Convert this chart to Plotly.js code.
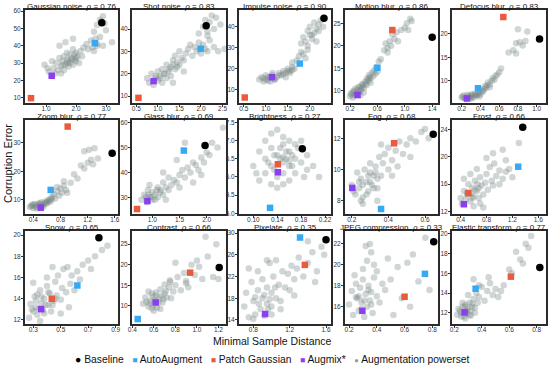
<!DOCTYPE html>
<html>
<head>
<meta charset="utf-8">
<script src="https://cdn.plot.ly/plotly-3.0.1.min.js"></script>
<style>
  body { margin: 0; background: #fff; }
  #plot { width: 550px; height: 371px; }
</style>
</head>
<body>
<div id="plot"></div>
<script>
// ---------------- data ----------------
var panelNames = ['Gaussian noise', 'Shot noise', 'Impulse noise', 'Motion blur', 'Defocus blur',
                  'Zoom blur', 'Glass blur', 'Brightness', 'Fog', 'Frost',
                  'Snow', 'Contrast', 'Pixelate', 'JPEG compression', 'Elastic transform'];
var rhoValues = ['0.76', '0.83', '0.90', '0.86', '0.83', '0.77', '0.69', '0.27', '0.68', '0.66',
                 '0.65', '0.66', '0.35', '0.33', '0.77'];

// method results (x = minimal sample distance, y = corruption error)
var baselineX = [2.86, 2.12, 2.32, 1.40, 1.03, 1.56, 1.97, 0.182, 0.645, 1.36, 0.778, 1.207, 1.60, 0.81, 0.823];
var baselineY = [53.3, 41.5, 44.0, 21.9, 18.9, 26.3, 50.8, 6.78, 12.25, 24.3, 19.75, 19.3, 28.8, 22.2, 16.6];
var autoX = [2.63, 1.99, 1.77, 0.60, 0.374, 0.656, 1.58, 0.128, 0.36, 1.29, 0.621, 0.45, 1.314, 0.747, 0.355];
var autoY = [41.5, 31.2, 22.5, 15.1, 8.37, 13.5, 48.8, 5.15, 7.47, 18.55, 15.25, 6.77, 29.2, 19.14, 14.44];
var patchX = [0.50, 0.55, 0.52, 0.818, 0.644, 0.906, 0.72, 0.141, 0.431, 0.52, 0.435, 0.937, 1.367, 0.60, 0.612];
var patchY = [9.8, 9.2, 6.4, 23.5, 23.6, 35.6, 25.3, 6.35, 11.68, 14.7, 14.0, 18.06, 24.15, 16.95, 15.66];
var augmixX = [1.19, 0.90, 1.14, 0.31, 0.257, 0.51, 0.91, 0.141, 0.203, 0.45, 0.358, 0.617, 0.93, 0.296, 0.275];
var augmixY = [22.7, 16.7, 16.0, 9.04, 6.2, 7.3, 28.5, 6.13, 8.82, 13.08, 13.03, 10.8, 15.1, 15.6, 12.04];

// augmentation powerset clouds
var gaussianNoiseX = [0.95,1.05,1.10,1.20,1.25,1.30,1.35,1.40,1.45,1.50,
                      1.50,1.55,1.60,1.60,1.65,1.70,1.70,1.75,1.80,1.80,
                      1.85,1.90,1.90,1.95,2.00,2.00,2.05,2.10,2.15,2.20,
                      2.25,1.45,1.65,1.90,2.35,2.40,2.50,2.55,2.60,2.65,
                      2.70,2.80,2.90,3.20,2.60,2.70,2.80,2.90,2.95,3.00,
                      1.55,1.75,1.85,2.00,1.70,1.95,2.70,2.85];
var gaussianNoiseY = [29,27,25,31,27,24,30,26,33,28,
                      24,31,26,34,29,32,36,28,30,35,
                      33,38,29,32,36,31,34,30,37,34,
                      39,40,42,44,41,38,43,39,37,44,
                      41,45,40,42,48,52,55,57,53,49,
                      29,31,32,33,30,35,40,54];
var shotNoiseX = [0.75,0.80,0.85,0.90,0.95,1.00,1.00,1.05,1.10,1.10,
                  1.15,1.20,1.20,1.25,1.30,1.30,1.35,1.40,1.40,1.45,
                  1.50,1.50,1.55,1.60,1.65,1.70,1.75,1.80,1.85,1.90,
                  1.95,2.00,2.05,2.10,2.20,2.30,2.40,2.55,1.95,2.05,
                  2.10,2.15,2.20,2.25,2.30,2.35,2.45,2.15,1.35,1.60,
                  0.95,1.05,1.15,1.25,1.35,1.45,2.00,2.15];
var shotNoiseY = [18,16,20,15,18,17,21,19,16,22,
                  20,18,24,21,23,19,26,22,28,25,
                  24,30,27,26,29,31,33,28,32,30,
                  34,29,33,31,35,32,30,31,38,41,
                  44,37,43,46,40,45,42,39,16,21,
                  19,18,20,22,24,23,31,30];
var impulseNoiseX = [0.85,0.90,0.95,1.00,1.00,1.05,1.10,1.15,1.20,1.25,
                     1.30,1.35,1.40,1.45,1.50,1.55,1.60,1.65,1.45,1.55,
                     1.70,1.75,1.80,1.85,1.90,1.95,1.80,1.85,1.90,1.95,
                     2.00,2.05,2.10,2.15,2.20,2.00,2.10,2.15,2.20,2.25,
                     2.30,1.95,2.05,1.60,1.15,
                     0.95,1.05,1.10,1.20,1.30,1.40,1.50,1.60];
var impulseNoiseY = [15,16,14,17,15,16,14,17,15,16,
                     18,17,19,18,20,19,21,20,16,18,
                     24,26,28,27,25,29,32,35,33,31,
                     36,34,37,33,38,40,42,39,41,43,
                     40,38,36,23,18,
                     15.5,14.5,16.2,15.0,17.0,17.5,19.0,19.5];
var motionBlurX = [0.20,0.22,0.24,0.25,0.27,0.28,0.30,0.32,0.33,0.35,
                   0.36,0.38,0.40,0.42,0.44,0.45,0.47,0.48,0.50,0.52,
                   0.54,0.55,0.57,0.58,0.60,0.35,0.40,0.50,0.62,0.70,
                   0.72,0.75,0.78,0.80,0.82,0.85,0.88,0.90,0.95,1.00,
                   1.03,1.05,1.08,1.10,0.75,0.65,
                   0.22,0.26,0.29,0.31,0.34,0.37,0.39,0.43,0.46,0.49];
var motionBlurY = [8.8,9.5,8.5,10.0,9.0,10.5,9.2,10.8,9.6,11.0,
                   10.2,11.5,10.6,12.0,11.2,12.8,12.2,13.5,12.8,14.0,
                   13.2,14.5,13.8,15.2,14.2,9.0,9.6,11.8,16.5,19.0,
                   20.5,19.5,21.0,20.0,22.5,21.5,23.0,21.0,23.5,24.0,
                   25.0,23.5,26.0,25.5,18.5,17.0,
                   9.2,9.8,9.4,10.2,10.0,10.6,11.2,11.6,12.4,13.0];
var defocusBlurX = [0.20,0.22,0.24,0.26,0.28,0.30,0.32,0.34,0.36,0.38,
                    0.40,0.42,0.25,0.30,0.35,0.40,0.44,0.45,0.47,0.48,
                    0.50,0.52,0.53,0.55,0.56,0.58,0.60,0.50,0.62,0.75,
                    0.78,0.80,0.82,0.85,0.88,0.90,0.78,0.70,
                    0.21,0.23,0.27,0.29,0.31,0.33,0.37,0.39,0.43,0.46];
var defocusBlurY = [6.4,6.8,6.2,7.0,6.5,6.9,6.6,7.2,6.8,7.3,
                    7.1,7.6,6.0,6.2,7.0,8.0,8.2,8.8,9.0,9.6,
                    9.2,10.0,10.5,10.2,11.0,11.3,11.8,8.6,12.6,16.5,
                    18.0,21.0,18.2,17.5,18.5,20.5,15.8,16.0,
                    6.6,6.3,6.7,6.3,7.1,6.4,7.0,6.6,7.8,8.4];
var zoomBlurX = [0.35,0.38,0.40,0.42,0.45,0.48,0.50,0.52,0.55,0.58,
                 0.60,0.62,0.65,0.68,0.70,0.72,0.75,0.78,0.80,0.82,
                 0.85,0.88,0.90,0.45,0.55,0.65,0.75,0.95,1.00,1.05,
                 1.10,1.15,1.20,1.22,1.25,1.28,1.30,1.35,1.15,0.85,
                 0.37,0.40,0.43,0.47,0.50,0.53,0.57,0.60,0.63,0.67];
var zoomBlurY = [7.5,8.2,7.2,8.6,7.8,8.8,8.0,9.2,8.4,9.5,
                 8.8,10.0,9.4,11.0,12.0,10.5,13.0,11.5,14.0,12.5,
                 15.0,13.5,12.5,7.0,7.6,10.4,14.5,16.0,19.0,17.5,
                 22.0,21.0,23.0,27.5,24.0,22.5,28.0,24.5,27.0,16.5,
                 7.8,8.4,7.6,8.2,8.8,8.1,8.9,9.2,9.6,10.2];
var glassBlurX = [0.80,0.85,0.90,0.92,0.95,1.00,1.00,1.05,1.10,1.10,
                  1.15,1.20,1.20,1.25,1.30,1.30,1.35,1.40,1.45,1.50,
                  1.50,1.55,1.60,1.65,1.70,1.75,1.80,1.85,1.90,1.95,
                  2.00,2.05,2.10,2.20,2.30,1.20,1.45,1.60,1.75,0.95,
                  1.25,1.90,0.88,0.98,1.08,1.15,1.05,0.93];
var glassBlurY = [29,31,28,33,30,29,32,31,30,34,
                  33,31,36,34,33,38,35,37,36,34,
                  39,41,38,42,40,44,43,41,46,44,
                  48,47,52,50,58,40,45,52,36,35,
                  29,39,30,30,33,32,29,31];
var brightnessX = [0.10,0.11,0.11,0.12,0.12,0.12,0.13,0.13,0.13,0.13,
                   0.14,0.14,0.14,0.14,0.15,0.15,0.15,0.15,0.15,0.16,
                   0.16,0.16,0.16,0.17,0.17,0.17,0.18,0.18,0.19,0.19,
                   0.20,0.21,0.125,0.145,0.155,0.165,0.135,0.175,0.105,0.185,
                   0.145,0.155,0.165,0.135,0.15,0.16];
var brightnessY = [6.3,6.7,5.9,6.5,7.0,6.1,6.8,6.3,5.8,7.2,
                   6.6,6.0,7.3,5.7,6.9,6.4,6.1,7.1,5.8,6.7,
                   6.3,7.0,5.9,6.5,6.9,6.1,6.4,7.0,6.2,6.6,
                   6.3,6.0,6.4,6.8,6.5,6.6,6.2,6.8,6.1,6.0,
                   6.5,6.7,6.3,6.6,6.55,6.45];
var fogX = [0.20,0.22,0.23,0.24,0.25,0.26,0.27,0.28,0.29,0.30,
            0.30,0.31,0.32,0.33,0.34,0.35,0.36,0.37,0.38,0.40,
            0.40,0.42,0.44,0.45,0.46,0.48,0.50,0.52,0.55,0.58,
            0.60,0.62,0.26,0.34,0.42,0.36,0.52,
            0.21,0.24,0.26,0.28,0.30,0.32,0.34,0.25,0.29,0.33];
var fogY = [9.0,8.4,9.8,8.8,9.4,8.2,10.0,9.2,8.6,9.8,
            10.4,9.0,9.6,10.2,8.8,10.8,9.6,10.4,11.0,10.0,
            11.4,10.6,11.2,10.2,11.8,11.0,11.6,12.0,11.8,12.4,
            12.6,12.0,7.8,8.0,9.6,11.6,10.8,
            8.6,9.2,9.0,8.4,9.2,8.8,9.4,8.0,9.6,9.8];
var frostX = [0.40,0.42,0.45,0.48,0.50,0.52,0.55,0.58,0.60,0.62,
              0.65,0.68,0.70,0.72,0.75,0.78,0.80,0.82,0.85,0.88,
              0.90,0.92,0.95,1.00,1.05,1.10,1.15,1.20,0.60,0.70,
              0.80,0.90,1.00,1.10,1.30,0.55,0.65,0.45,1.05,0.75,
              0.50,0.56,0.62,0.68,0.58,0.66];
var frostY = [14.0,13.2,15.0,13.8,14.5,16.0,13.5,15.5,14.2,16.5,
              15.0,14.0,17.0,15.8,14.5,16.2,17.5,15.2,18.5,16.5,
              15.8,19.0,17.2,18.0,16.8,19.5,18.2,17.0,12.8,13.2,
              19.8,20.5,16.0,17.8,22.0,17.5,18.2,16.8,21.0,12.6,
              14.8,14.6,15.2,15.4,14.0,16.0];
var snowX = [0.27,0.28,0.30,0.31,0.32,0.33,0.35,0.36,0.37,0.38,
             0.40,0.41,0.42,0.43,0.45,0.46,0.47,0.48,0.50,0.51,
             0.52,0.54,0.55,0.57,0.58,0.60,0.62,0.64,0.66,0.70,
             0.72,0.75,0.80,0.84,0.30,0.40,0.50,0.56,0.44,0.35,
             0.29,0.32,0.34,0.36,0.39,0.41,0.44,0.46,0.38,0.33];
var snowY = [12.2,13.5,12.8,14.2,13.2,12.5,14.8,13.6,12.9,14.0,
             15.2,13.4,14.5,12.8,13.8,15.6,14.3,16.2,13.9,15.0,
             16.8,14.6,17.0,15.4,16.2,14.8,16.6,15.8,17.2,17.6,
             16.8,18.0,18.6,19.0,15.5,16.0,12.6,13.2,17.0,11.9,
             13.0,13.8,13.0,14.2,13.4,14.6,13.4,14.0,12.6,14.4];
var contrastX = [0.50,0.52,0.55,0.57,0.58,0.60,0.62,0.63,0.65,0.66,
                 0.68,0.70,0.70,0.72,0.74,0.75,0.76,0.78,0.80,0.82,
                 0.85,0.88,0.90,0.92,0.95,0.98,1.00,1.02,1.05,1.08,
                 1.10,1.15,1.18,1.20,0.60,0.66,0.55,0.80,0.90,0.75,
                 0.53,0.56,0.59,0.61,0.64,0.67,0.69,0.71,0.62,0.58];
var contrastY = [10.5,12.0,9.8,11.2,13.0,10.2,12.5,9.6,11.8,14.0,
                 10.8,13.0,15.2,12.0,14.5,16.2,11.8,13.5,15.0,17.0,
                 13.8,18.0,16.0,14.5,20.0,17.5,21.0,19.5,16.5,26.8,
                 22.0,17.0,25.0,16.5,8.8,9.2,13.5,20.5,15.5,15.8,
                 11.0,10.6,12.2,11.4,10.8,12.4,11.6,13.6,13.2,9.4];
var pixelateX = [0.70,0.72,0.75,0.78,0.80,0.82,0.85,0.85,0.88,0.90,
                 0.90,0.92,0.95,0.95,0.98,1.00,1.00,1.02,1.05,1.05,
                 1.08,1.10,1.12,1.15,1.18,1.20,1.22,1.25,1.28,1.30,
                 1.35,1.40,1.45,1.50,1.55,1.40,1.48,0.80,1.00,1.10,
                 0.75,0.95,1.25,1.58,0.86,0.92,0.98,1.04,0.82,0.96];
var pixelateY = [16.5,19.0,14.5,21.0,17.5,15.0,19.5,23.0,16.0,18.0,
                 21.5,14.8,17.0,20.0,24.5,16.5,19.0,22.0,18.0,25.0,
                 20.5,17.5,23.0,20.0,22.5,19.5,24.0,21.5,23.5,25.5,
                 22.0,24.5,26.5,23.0,27.5,28.5,21.0,14.2,15.0,16.0,
                 23.5,25.0,18.5,26.0,17.0,18.6,17.8,20.0,18.2,16.0];
var jpegX = [0.20,0.22,0.23,0.25,0.26,0.27,0.28,0.29,0.30,0.31,
             0.32,0.33,0.34,0.35,0.36,0.37,0.38,0.40,0.42,0.44,
             0.30,0.33,0.36,0.38,0.40,0.32,0.46,0.50,0.55,0.58,
             0.62,0.66,0.70,0.75,0.78,0.52,0.64,0.24,0.48,0.35,
             0.27,0.31,0.34,0.29,0.36,0.25];
var jpegY = [16.2,17.5,15.2,18.2,16.8,15.6,17.8,16.4,18.6,15.0,
             17.2,16.0,18.0,16.6,17.4,15.4,18.8,17.0,16.4,18.2,
             19.6,20.4,21.2,20.0,19.4,21.8,17.6,18.6,19.8,16.8,
             20.2,21.0,18.4,22.6,17.6,15.2,16.0,19.0,20.6,22.0,
             17.0,16.6,17.6,15.8,16.2,16.9];
var elasticX = [0.22,0.24,0.25,0.26,0.27,0.28,0.29,0.30,0.31,0.32,
                0.33,0.34,0.35,0.36,0.38,0.40,0.42,0.44,0.46,0.48,
                0.50,0.52,0.54,0.56,0.30,0.34,0.38,0.45,0.60,0.65,
                0.68,0.70,0.72,0.74,0.76,0.62,0.28,0.26,
                0.23,0.25,0.27,0.29,0.31,0.33,0.35,0.37,0.28,0.32];
var elasticY = [11.8,12.2,11.6,12.6,12.0,12.8,11.9,12.4,13.0,12.2,
                12.6,13.4,12.0,14.0,13.6,14.6,13.2,14.2,15.0,13.8,
                14.4,13.6,14.2,14.8,13.8,15.4,14.8,15.6,16.4,18.2,
                17.4,17.0,19.0,18.6,19.8,16.0,11.4,13.0,
                12.4,12.0,11.6,12.2,11.8,12.9,12.5,13.0,12.6,11.7];

var powersetX = [gaussianNoiseX, shotNoiseX, impulseNoiseX, motionBlurX, defocusBlurX,
                 zoomBlurX, glassBlurX, brightnessX, fogX, frostX,
                 snowX, contrastX, pixelateX, jpegX, elasticX];
var powersetY = [gaussianNoiseY, shotNoiseY, impulseNoiseY, motionBlurY, defocusBlurY,
                 zoomBlurY, glassBlurY, brightnessY, fogY, frostY,
                 snowY, contrastY, pixelateY, jpegY, elasticY];

// axis ticks per panel
var xTicks = [[1, 2, 3], [0.5, 1, 1.5, 2, 2.5], [0.5, 1, 1.5, 2], [0.2, 0.6, 1.0, 1.4], [0.2, 0.4, 0.6, 0.8, 1.0],
              [0.4, 0.8, 1.2, 1.6], [1.0, 1.5, 2.0], [0.10, 0.14, 0.18, 0.22], [0.2, 0.4, 0.6], [0.4, 0.8, 1.2, 1.6],
              [0.3, 0.5, 0.7, 0.9], [0.4, 0.6, 0.8, 1.0, 1.2], [0.8, 1.2, 1.6], [0.2, 0.4, 0.6, 0.8], [0.2, 0.4, 0.6, 0.8]];
var yTicks = [[10, 20, 30, 40, 50, 60], [10, 20, 30, 40], [10, 20, 30, 40], [10, 15, 20, 25], [10, 15, 20],
              [10, 20, 30], [30, 40, 50, 60], [5.0, 5.5, 6.0, 6.5, 7.0, 7.5], [8, 10, 12], [12, 16, 20, 24],
              [12, 14, 16, 18, 20], [10, 15, 20, 25], [14, 18, 22, 26, 30], [16, 18, 20, 22], [12, 14, 16, 18, 20]];

// ---------------- layout helpers ----------------
var W = 550, H = 371;
var xRanges = [[0.3, 3.4], [0.4, 2.58], [0.39, 2.48], [0.127, 1.485], [0.097, 1.099],
               [0.278, 1.646], [0.627, 2.355], [0.076, 0.23], [0.163, 0.671], [0.266, 1.72],
               [0.24, 0.917], [0.397, 1.27], [0.642, 1.655], [0.171, 0.841], [0.183, 0.868]];
var yRanges = [[7, 60.6], [6.9, 48.5], [3.8, 47.9], [7.27, 27.96], [5.22, 25.1],
               [5.1, 37.9], [23.3, 61.1], [4.98, 7.57], [7.15, 13.17], [11.66, 25.35],
               [11.62, 20.38], [5.56, 28.2], [13.26, 30.4], [14.34, 23.24], [10.85, 20.3]];
var colPx = [[25, 118], [132, 226], [239, 331], [345, 438], [452, 546]];
var rowPx = [[10, 103], [120, 214], [231, 324]];

var font = 'Liberation Sans, Arial, sans-serif';
var grayCol = 'rgba(118,134,132,0.34)';
var colors = {baseline: '#000000', auto: '#36a9f4', patch: '#ea5a3c', augmix: '#8a3ff0', gray: '#8f9a9a'};

var data = [];
var layout = {
    width: W, height: H,
    margin: {l: 0, r: 0, t: 0, b: 0},
    paper_bgcolor: '#fff', plot_bgcolor: '#fff',
    showlegend: false,
    annotations: []
};

for (var i = 0; i < 15; i++) {
    var n = i + 1;
    var xa = 'x' + (n === 1 ? '' : n);
    var ya = 'y' + (n === 1 ? '' : n);
    var col = colPx[i % 5], row = rowPx[Math.floor(i / 5)];

    // gray cloud
    data.push({
        x: powersetX[i], y: powersetY[i], xaxis: xa, yaxis: ya,
        type: 'scatter', mode: 'markers', name: 'Augmentation powerset',
        marker: {color: grayCol, size: 6.5, line: {width: 0}},
        hoverinfo: 'skip'
    });
    // methods
    var methods = [
        {name: 'Baseline', xs: baselineX, ys: baselineY, c: colors.baseline, sym: 'circle', sz: 7.5},
        {name: 'AutoAugment', xs: autoX, ys: autoY, c: colors.auto, sym: 'square', sz: 6.5},
        {name: 'Patch Gaussian', xs: patchX, ys: patchY, c: colors.patch, sym: 'square', sz: 6.5},
        {name: 'Augmix*', xs: augmixX, ys: augmixY, c: colors.augmix, sym: 'square', sz: 6.5}
    ];
    methods.forEach(function (m) {
        data.push({
            x: [m.xs[i]], y: [m.ys[i]], xaxis: xa, yaxis: ya,
            type: 'scatter', mode: 'markers', name: m.name,
            marker: {color: m.c, size: m.sz, symbol: m.sym, line: {width: 0}}
        });
    });

    var axBase = {
        showgrid: false, zeroline: false,
        showline: true, mirror: true, linewidth: 2, linecolor: '#2b2b2b',
        ticks: 'outside', ticklen: 2, tickwidth: 1, tickcolor: '#333',
        ticklabelstandoff: -4,
        tickfont: {family: font, size: 6.5, color: '#333'},
        fixedrange: true
    };
    layout['xaxis' + (n === 1 ? '' : n)] = Object.assign({}, axBase, {
        domain: [col[0] / W, col[1] / W], anchor: ya, range: xRanges[i],
        tickvals: xTicks[i], tickformat: (i === 7 ? '.2f' : '.1f')
    });
    layout['yaxis' + (n === 1 ? '' : n)] = Object.assign({}, axBase, {
        domain: [1 - row[1] / H, 1 - row[0] / H], anchor: xa, range: yRanges[i],
        tickvals: yTicks[i], tickformat: (i === 7 ? '.1f' : 'd'), ticklabelstandoff: -1
    });

    layout.annotations.push({
        text: panelNames[i] + ', <i>\u03c1</i> = ' + rhoValues[i],
        xref: 'paper', yref: 'paper',
        x: (col[0] + col[1]) / 2 / W, y: 1 - (row[0] - 3.8) / H,
        xanchor: 'center', yanchor: 'middle', showarrow: false, borderpad: 0,
        font: {family: font, size: 8, color: '#111'}
    });
}

layout.annotations.push({
    text: 'Minimal Sample Distance', xref: 'paper', yref: 'paper',
    x: 272 / W, y: 1 - 341 / H, xanchor: 'center', yanchor: 'middle', showarrow: false,
    font: {family: font, size: 10.5, color: '#111'}
});
layout.annotations.push({
    text: 'Corruption Error', xref: 'paper', yref: 'paper',
    x: 8 / W, y: 1 - 164 / H, xanchor: 'center', yanchor: 'middle', showarrow: false,
    textangle: -90, font: {family: font, size: 11, color: '#111'}
});

// legend row (symbols + labels), laid out as one line of text
var legendItems = [
    {label: 'Baseline', c: colors.baseline, glyph: '\u25CF', fs: 10.5},
    {label: 'AutoAugment', c: colors.auto, glyph: '\u25A0', fs: 8.5},
    {label: 'Patch Gaussian', c: colors.patch, glyph: '\u25A0', fs: 8.5},
    {label: 'Augmix*', c: colors.augmix, glyph: '\u25A0', fs: 8.5},
    {label: 'Augmentation powerset', c: colors.gray, glyph: '\u25CF', fs: 7.5}
];
var legendText = legendItems.map(function (it) {
    return '<span style="color:' + it.c + ';font-size:' + it.fs + 'px">' + it.glyph + '</span> ' + it.label;
}).join('\u00a0\u00a0\u00a0');
layout.annotations.push({
    text: legendText, xref: 'paper', yref: 'paper',
    x: 272 / W, y: 1 - 359 / H, xanchor: 'center', yanchor: 'middle', showarrow: false,
    font: {family: font, size: 10.3, color: '#111'}
});

Plotly.newPlot('plot', data, layout, {displayModeBar: false, staticPlot: true});
</script>
</body>
</html>
